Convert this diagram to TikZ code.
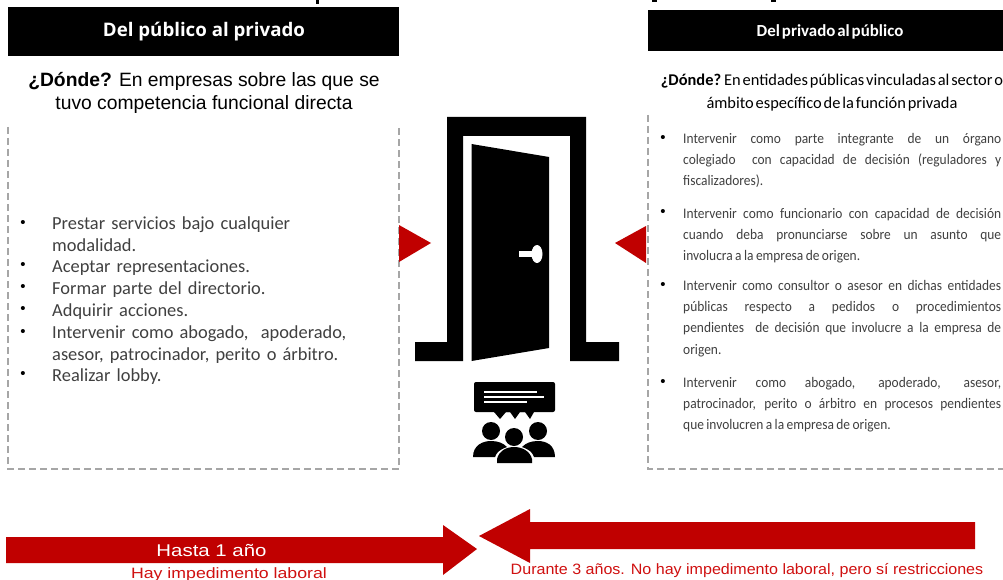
\documentclass[tikz,border=0pt]{standalone}
\usepackage{fontspec}
\setmainfont{Liberation Sans}
\newfontfamily\carl{Carlito}
\newfontfamily\carln{Carlito}[WordSpace=0.5]
\newfontfamily\carlc{Carlito}[FakeStretch=0.92,WordSpace=0.8]
\newfontfamily\opens{Open Sans}
\definecolor{cred}{HTML}{C00000}
\definecolor{lred}{HTML}{D01010}
\definecolor{dashc}{HTML}{A6A6A6}
\definecolor{txt}{HTML}{404040}
\newcommand{\hs}[2]{\scalebox{#1}[1]{#2}}
\tikzset{
 x=1pt,y=-1pt,
 hdr/.style={fill=black,draw=none},
 dashbox/.style={draw=dashc,line width=1.2pt,dash pattern=on 7pt off 4pt},
 redfill/.style={fill=cred,draw=none},
 blk/.style={fill=black,draw=none},
 wht/.style={fill=white,draw=none},
 lab/.style={inner sep=0pt,anchor=center,align=center},
 litem/.style={inner sep=0pt,anchor=north west,text width=330pt,align=left,text=txt,font=\carl\fontsize{18.4}{21.7}\selectfont},
 ritem/.style={inner sep=0pt,anchor=north west,text width=318pt,align=justify,text=txt,font=\carlc\fontsize{14.6}{21.3}\selectfont},
 bul/.style={inner sep=0pt,anchor=center,font=\fontsize{15}{15}\selectfont},
}
\begin{document}
\begin{tikzpicture}
\useasboundingbox (0,0) rectangle (1003,580);
\fill[white] (0,0) rectangle (1003,580);
% clipped title remains
\fill[blk] (316,0) rectangle (319,4);
\fill[blk] (652,0) rectangle (657,2);
\fill[blk] (771,0) rectangle (776,2);
% headers
\fill[hdr] (8,7) rectangle (399,56);
\node[lab,text=white,font=\opens\fontsize{18.7}{19}\selectfont\bfseries] (h1) at (204,32) {Del público al privado};
\fill[hdr] (648,10) rectangle (1003,51);
\node[lab,text=white,font=\carl\fontsize{16.9}{19}\selectfont\bfseries] (h2) at (830,32) {Del privado al público};
% where
\node[lab,font=\fontsize{19.3}{23}\selectfont] (w1) at (204,93) {\textbf{¿Dónde?} En empresas sobre las que se\\tuvo competencia funcional directa};
\node[lab,font=\carln\fontsize{16.4}{23}\selectfont] (w2) at (832,93) {\textbf{¿Dónde?} En entidades públicas vinculadas al sector o\\ámbito específico de la función privada};
% dashed boxes
\draw[dashbox] (8,127) -- (8,469) -- (399,469) -- (399,127);
\draw[dashbox] (648,115) -- (648,469) -- (1003,469);
% left list
\node[bul] (lb1) at (23,224) {•};
\node[litem] (l1) at (52,216.5) {Prestar servicios bajo cualquier\\modalidad.};
\node[bul] (lb2) at (23,266) {•};
\node[litem] (l2) at (52,260) {Aceptar representaciones.};
\node[bul] (lb3) at (23,288) {•};
\node[litem] (l3) at (52,281.5) {Formar parte del directorio.};
\node[bul] (lb4) at (23,310) {•};
\node[litem] (l4) at (52,303.5) {Adquirir acciones.};
\node[bul] (lb5) at (23,333) {•};
\node[litem] (l5) at (52,326) {Intervenir como abogado,\ \ apoderado,\\asesor, patrocinador, perito o árbitro.};
\node[bul] (lb6) at (23,375) {•};
\node[litem] (l6) at (52,368.5) {Realizar lobby.};
% right list
\node[bul] (rb1) at (663,139) {•};
\node[ritem] (r1) at (683,133) {Intervenir como parte integrante de un órgano\linebreak colegiado\ \ con capacidad de decisión (reguladores y\linebreak fiscalizadores).};
\node[bul] (rb2) at (663,213) {•};
\node[ritem] (r2) at (683,208) {Intervenir como funcionario con capacidad de decisión\linebreak cuando deba pronunciarse sobre un asunto que\linebreak involucra a la empresa de origen.};
\node[bul] (rb3) at (663,286) {•};
\node[ritem] (r3) at (683,280) {Intervenir como consultor o asesor en dichas entidades\linebreak públicas respecto a pedidos o procedimientos\linebreak pendientes\ \ de decisión que involucre a la empresa de\linebreak origen.};
\node[bul] (rb4) at (663,383) {•};
\node[ritem] (r4) at (683,377) {Intervenir como abogado, apoderado, asesor,\linebreak patrocinador, perito o árbitro en procesos pendientes\linebreak que involucren a la empresa de origen.};
% red triangles
\fill[redfill] (399,225) -- (431,243) -- (399,262) -- cycle;
\fill[redfill] (646,226) -- (615,243) -- (646,263) -- cycle;
% door
\fill[blk] (415,361) -- (415,342) -- (447,342) -- (447,117) -- (586,117) -- (586,342) -- (619,342) -- (619,361) -- (570,361) -- (570,136) -- (463,136) -- (463,361) -- cycle;
\fill[blk] (471.5,144) -- (549,157) -- (549,348) -- (471.5,361) -- cycle;
\fill[wht] (519,251) rectangle (533,257);
\fill[wht] (537,254) ellipse [x radius=5.5,y radius=9];
% people icon
\fill[blk,rounded corners=2pt] (474,382) rectangle (555,412);
\fill[blk] (494,412) -- (500,419) -- (506,412) -- (510,412) -- (515,419) -- (520,412) -- (525,412) -- (530,419) -- (534,412) -- cycle;
\fill[wht] (484,391) rectangle (537,393);
\fill[wht] (484,396) rectangle (544,398);
\fill[wht] (484,401) rectangle (527,403);
\fill[blk] (491,431) circle (9);
\fill[blk] (538,431) circle (9);
\fill[blk] (473,457) .. controls (473,445) and (483,441) .. (491,441) .. controls (498,441) and (503,443) .. (507,447) .. controls (499,450) and (497,452) .. (495,457) -- cycle;
\fill[blk] (555,457) .. controls (555,445) and (546,441) .. (538,441) .. controls (531,441) and (526,443) .. (522,447) .. controls (530,450) and (532,452) .. (534,457) -- cycle;
\fill[blk] (514,437) circle (9);
\fill[blk] (497,463) -- (497,459) .. controls (499,451) and (506,447) .. (514,447) .. controls (522,447) and (530,451) .. (532,459) -- (532,463) -- cycle;
% arrows
\fill[redfill] (6,537) -- (443,537) -- (443,525) -- (477,549) -- (443,575) -- (443,563) -- (6,563) -- cycle;
\fill[redfill] (975,522) -- (530,522) -- (530,509) -- (479,536) -- (530,563) -- (530,549) -- (975,549) -- cycle;
\node[lab,text=white,font=\fontsize{17}{18}\selectfont] (a1) at (211.5,550) {\hs{1.2}{Hasta 1 año}};
\node[lab,text=lred,font=\fontsize{15}{16}\selectfont] (a2) at (229,574.5) {\hs{1.18}{Hay impedimento laboral}};
\node[lab,text=lred,font=\fontsize{15}{16}\selectfont] (a3) at (747,571) {\hs{1.07}{Durante 3 años. No hay impedimento laboral, pero sí restricciones}};
\end{tikzpicture}
\end{document}
